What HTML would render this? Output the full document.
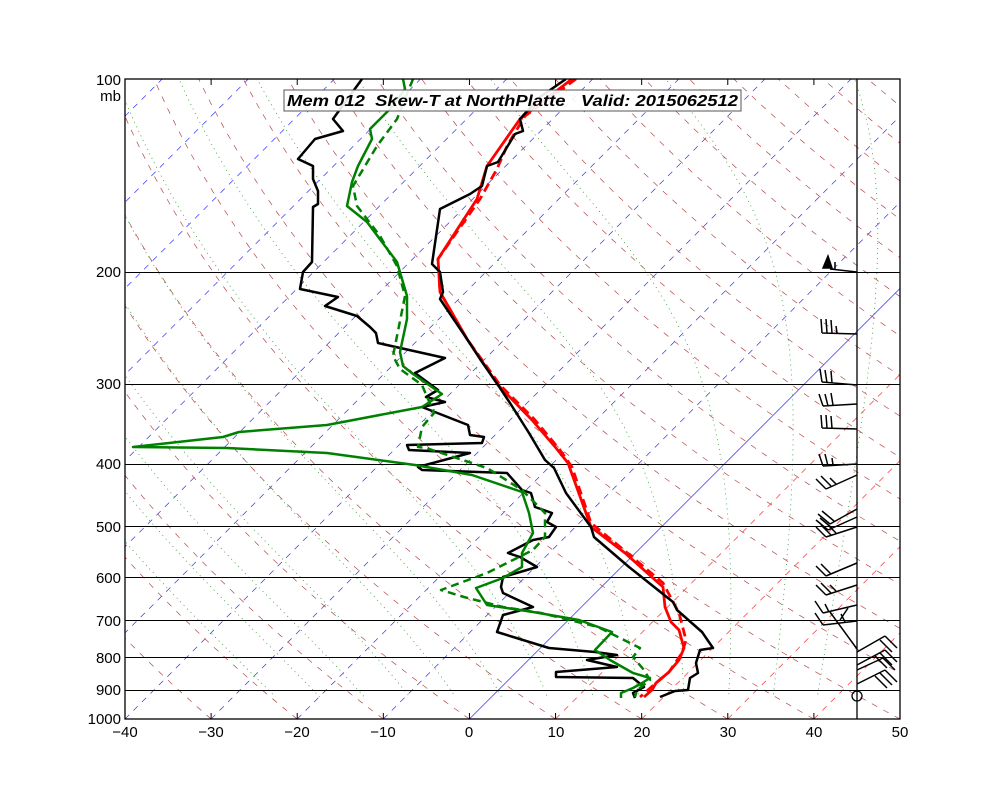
<!DOCTYPE html>
<html><head><meta charset="utf-8">
<style>
html,body{margin:0;padding:0;background:#fff;}
svg{display:block;}
text{font-family:"Liberation Sans",sans-serif;}
</style></head>
<body>
<svg id="s" width="1000" height="800" xmlns="http://www.w3.org/2000/svg">
<defs><clipPath id="c"><rect x="125" y="79" width="775" height="640"/></clipPath>
<clipPath id="c2"><rect x="125" y="79" width="775" height="618"/></clipPath></defs>
<rect width="1000" height="800" fill="#fff"/>
<g id="bg" clip-path="url(#c)"></g>
<g id="moist" clip-path="url(#c2)"></g>
<g id="hl" stroke="#000" stroke-width="1"></g>
<g id="data" clip-path="url(#c)" fill="none" stroke-linejoin="round"></g>
<g id="barbs" stroke="#000" stroke-width="1.5" fill="none"></g>
<circle cx="857" cy="696" r="5" fill="none" stroke="#000" stroke-width="1.3"/>
<line x1="857" y1="79" x2="857" y2="719" stroke="#000" stroke-width="1.3"/>
<rect x="125" y="79" width="775" height="640" fill="none" stroke="#000" stroke-width="1.3"/>
<g id="ticks" stroke="#000" stroke-width="1"></g>
<g font-size="15" text-anchor="end" fill="#000">
<text x="121" y="85">100</text>
<text x="121" y="101">mb</text>
<text x="121" y="277">200</text>
<text x="121" y="389">300</text>
<text x="121" y="469">400</text>
<text x="121" y="532">500</text>
<text x="121" y="583">600</text>
<text x="121" y="626">700</text>
<text x="121" y="663">800</text>
<text x="121" y="695">900</text>
<text x="121" y="724">1000</text>
</g>
<g font-size="15" text-anchor="middle" fill="#000">
<text x="125" y="737">−40</text><text x="211" y="737">−30</text><text x="297" y="737">−20</text>
<text x="383" y="737">−10</text><text x="469" y="737">0</text><text x="556" y="737">10</text>
<text x="642" y="737">20</text><text x="728" y="737">30</text><text x="814" y="737">40</text>
<text x="900" y="737">50</text>
</g>
<rect x="284" y="90" width="457" height="21" fill="#fff" fill-opacity="0.9" stroke="#555" stroke-width="1"/>
<text x="287" y="106" font-size="15.5" font-weight="bold" font-style="italic" fill="#000" textLength="451" lengthAdjust="spacingAndGlyphs" xml:space="preserve">Mem 012  Skew-T at NorthPlatte   Valid: 2015062512</text>
</svg>
<script>
var NS="http://www.w3.org/2000/svg";
function el(g,n,a){var e=document.createElementNS(NS,n);for(var k in a)e.setAttribute(k,a[k]);document.getElementById(g).appendChild(e);return e;}
function Y(p){return 79+640*Math.log10(p/100);}
function X(T,y){return 469.4+8.611*T+(719-y);}
for(var T=-150;T<=50;T+=10){
  var x1=X(T,719),x2=X(T,79);
  var col=T<0?"#3333ff":"#ff3333";
  var a={x1:x1,y1:719,x2:x2,y2:79,stroke:T==0?"#4444ff":col,"stroke-width":T==0?0.8:0.7};
  if(T!=0)a["stroke-dasharray"]="6,6";
  el("bg","line",a);
}
for(var t0=-30;t0<=220;t0+=10){
  var th=t0+273.15,pts=[];
  for(var p=1000;p>=100;p-=10){var T=th*Math.pow(p/1000,0.2857)-273.15;var y=Y(p);pts.push(X(T,y).toFixed(1)+","+y.toFixed(1));}
  el("bg","polyline",{points:pts.join(" "),fill:"none",stroke:"#b84848","stroke-width":0.7,"stroke-dasharray":"6,7"});
}
function dTdp(T,p){var Tc=T-273.15;var es=6.112*Math.exp(17.67*Tc/(Tc+243.5));var rs=0.622*es/(p-es);
 var num=287*T+2.5e6*rs;var den=1004+2.5e6*2.5e6*rs*0.622/(287*T*T);return num/(p*den);}
for(var t0=-20;t0<=40;t0+=5){
  var T=t0+273.15,pts=[];
  for(var p=1000;p>=100;p-=2){var y=Y(p);pts.push(X(T-273.15,y).toFixed(1)+","+y.toFixed(1));T-=dTdp(T,p)*2;}
  el("moist","polyline",{points:pts.join(" "),fill:"none",stroke:"#339933","stroke-width":0.8,"stroke-dasharray":"1,4"});
}
[200,300,400,500,600,700,800,900].forEach(function(p){var y=Math.round(Y(p))+0.5;el("hl","line",{x1:125,y1:y,x2:900,y2:y});});
for(var i=0;i<10;i++){var x=125+i*86.11;el("ticks","line",{x1:x,y1:719,x2:x,y2:713});el("ticks","line",{x1:x,y1:79,x2:x,y2:85});}
function line(pts,col,w,dash){var a={points:pts,stroke:col,"stroke-width":w};if(dash)a["stroke-dasharray"]=dash;el("data","polyline",a);}
line("362,79 333,119 343,131 315,139 298,159 313,166 313,179 318,191 318,204 313,207 312,262 303,272 300,289 338,297 325,306 357,316 370,327 376,333 378,343 445,358 415,373 438,390 426,397 445,402 422,407 468,425 470,435 484,437 482,443 407,445 409,450 470,453 418,467 422,470 507,473 522,490 531,493 535,507 552,513 547,522 556,527 549,537 533,540 508,553 520,557 537,567 503,577 501,587 503,593 533,607 503,615 497,632 549,648 595,652 617,655 587,660 617,667 556,672 556,677 633,678 644,687 633,693 635,698","#000",2.5);
line("413,79 397,119 377,146 353,186 357,206 380,236 397,266 405,296 393,356 400,369 422,385 434,413 422,427 418,447 426,448 487,468 522,490 545,513 545,537 533,550 487,573 441,590 464,597 503,607 541,613 598,627 640,648 633,657 644,670 650,680 637,690 635,697","#008000",2.5,"8,5");
line("403,79 405,89 390,109 370,129 372,139 358,166 352,182 347,206 367,222 397,262 407,296 407,319 400,352 403,366 413,374 442,394 422,407 327,425 239,432 223,437 133,447 227,448 327,453 415,465 472,475 522,492 529,513 533,533 522,553 522,567 503,578 476,588 487,605 533,612 579,620 612,632 595,650 610,660 633,673 650,678 642,683 633,688 621,693 621,698","#008000",2.5);
line("576,79 525,116 507,146 497,169 480,199 438,259 440,292 467,339 500,385 535,420 560,450 572,467 591,523 625,551 663,583 679,613 686,640 682,653 669,672 656,683 640,697","#ff0000",2.8,"9,5");
line("572,79 520,119 487,166 477,199 438,259 440,292 467,339 498,385 532,420 556,448 568,463 591,527 625,553 663,587 665,607 671,622 679,630 684,648 679,660 669,672 656,683 652,690 644,697","#ff0000",2.8);
line("566,79 540,97 520,119 523,131 515,134 498,162 487,166 482,186 470,194 440,209 432,264 440,272 443,292 440,299 467,339 480,359 498,385 510,403 529,433 545,460 554,468 566,493 591,527 594,537 629,567 673,602 677,610 702,632 713,648 700,650 696,663 698,673 690,678 688,690 675,691 660,697","#000",2.5);
function barb(x1,y1,x2,y2,bs){var s="M"+x1+","+y1+"L"+x2+","+y2;bs.forEach(function(b){s+="M"+b[0]+","+b[1]+"l"+b[2]+","+b[3];});el("barbs","path",{d:s});}
el("barbs","path",{d:"M823,268L828,256L832,268Z",fill:"#000"});
barb(857,272,830,269,[[835,270,0,-8]]);
barb(857,334,822,333,[[822,333,-1,-14],[827,333,-1,-14],[832,333,-1,-13],[837,333,-1,-7]]);
barb(857,385,822,382,[[822,382,-2,-13],[827,383,-2,-13],[832,383,-1,-12]]);
barb(857,404,823,406,[[823,406,-4,-12],[828,406,-3,-12],[833,405,-2,-12]]);
barb(857,429,822,428,[[822,428,-1,-13],[827,428,-1,-13],[832,428,-1,-12]]);
barb(857,464,823,466,[[823,466,-4,-12],[828,466,-3,-12],[833,465,-1,-7]]);
barb(857,475,826,489,[[826,489,-10,-10],[831,486,-10,-10],[836,484,-6,-6]]);
barb(857,509,830,524,[[830,524,-12,-10],[834,521,-12,-10]]);
barb(857,517,828,530,[[828,530,-12,-10],[832,528,-12,-10]]);
barb(857,527,826,537,[[826,537,-10,-10],[831,535,-10,-10],[836,533,-8,-8]]);
barb(857,563,826,576,[[826,576,-10,-10],[831,574,-10,-10]]);
barb(857,585,826,595,[[826,595,-10,-10],[831,593,-10,-10],[836,591,-6,-6]]);
barb(857,605,823,613,[[823,613,-8,-12],[829,612,-4,-8]]);
barb(857,621,823,625,[[823,625,-8,-12],[830,612,27,37],[840,620,8,-12],[845,622,-4,-8]]);
barb(857,652,885,636,[[885,636,12,12],[880,640,12,12]]);
barb(857,665,885,650,[[885,650,12,12],[880,653,12,12],[875,656,12,12]]);
barb(857,670,883,658,[[883,658,12,12]]);
barb(857,684,885,670,[[885,670,12,12],[880,673,12,12],[875,676,12,12]]);
</script>
</body></html>
